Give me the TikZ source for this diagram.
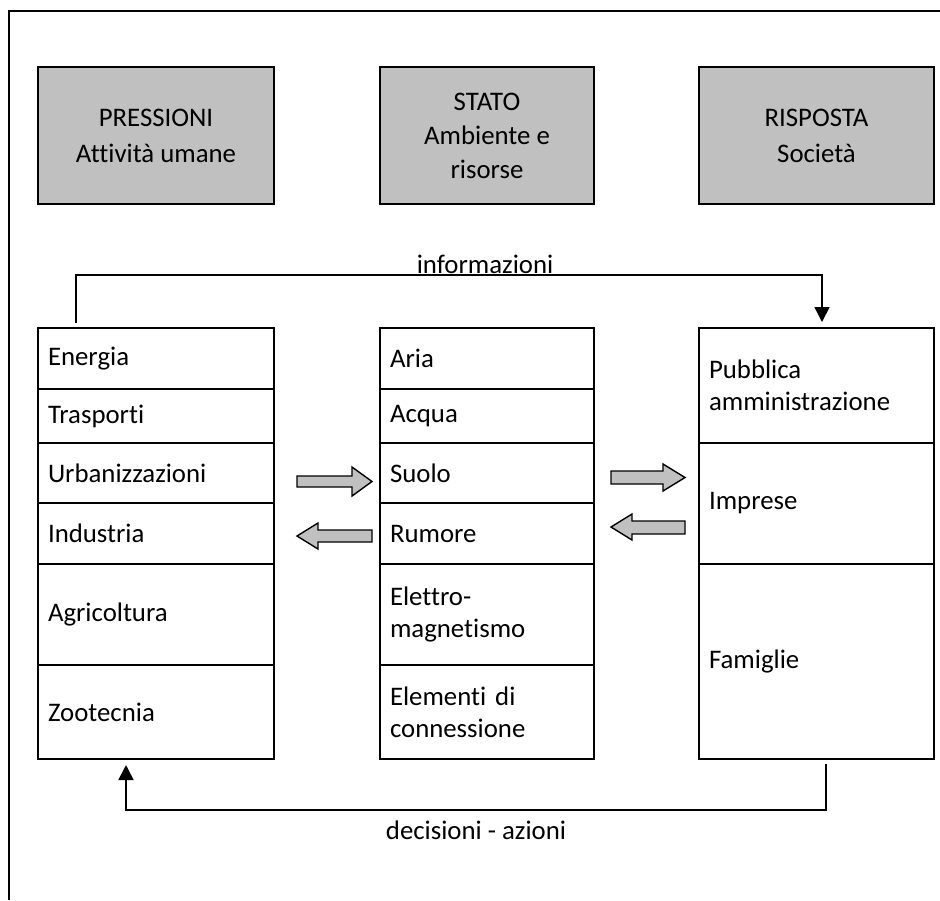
\documentclass[tikz,border=0pt]{standalone}
\usepackage{fontspec}
\setmainfont{Carlito}[Ligatures={NoCommon}]
\usetikzlibrary{arrows.meta,calc}
\definecolor{boxgrey}{RGB}{192,192,192}
\tikzset{
  cell/.style={draw,line width=1pt,anchor=north west,inner xsep=5pt,inner ysep=0pt,align=left,
    font=\fontsize{13.4pt}{16pt}\selectfont},
  lcol/.style={cell,minimum width=118pt,text width=108pt},
  mcol/.style={cell,minimum width=107pt,text width=97pt},
  rcol/.style={cell,minimum width=117.5pt,text width=107.5pt},
  head/.style={draw,line width=1pt,fill=boxgrey,anchor=north west,inner xsep=0pt,inner ysep=0pt,align=center,
    minimum height=68.5pt,font=\fontsize{13.4pt}{18pt}\selectfont},
  conn/.style={line width=0.8pt},
  tip/.style={-{Triangle[width=7.5pt,length=7.5pt]}},
  blockarrow/.style={draw,line width=0.7pt,fill=boxgrey,line join=miter},
  lab/.style={font=\fontsize{13.4pt}{16pt}\selectfont,inner sep=0pt}
}
\begin{document}
\begin{tikzpicture}[x=0.5pt,y=-0.5pt]
\useasboundingbox (0,0) rectangle (940,900);
% outer frame
\draw[line width=1pt] (9,900) -- (9,11) -- (940,11);
% header boxes
\node[head,minimum width=118pt] (pressioni) at (37,66) {PRESSIONI\\Attività umane};
\node[head,minimum width=107pt,font=\fontsize{13.4pt}{17pt}\selectfont] (stato) at (379,66) {STATO\\Ambiente e\\risorse};
\node[head,minimum width=117.5pt] (risposta) at (698,66) {RISPOSTA\\Società};
% left column
\node[lcol,minimum height=30.5pt] (energia) at (37,327) {Energia};
\node[lcol,minimum height=27pt] (trasporti) at (37,388) {Trasporti};
\node[lcol,minimum height=30pt] (urban) at (37,442) {Urbanizzazioni};
\node[lcol,minimum height=30.5pt] (industria) at (37,502) {Industria};
\node[lcol,minimum height=50.5pt] (agricoltura) at (37,563) {Agricoltura};
\node[lcol,minimum height=47pt] (zootecnia) at (37,664) {Zootecnia};
% middle column
\node[mcol,minimum height=30.5pt] (aria) at (379,327) {Aria};
\node[mcol,minimum height=27pt] (acqua) at (379,388) {Acqua};
\node[mcol,minimum height=30pt] (suolo) at (379,442) {Suolo};
\node[mcol,minimum height=30.5pt] (rumore) at (379,502) {Rumore};
\node[mcol,minimum height=50.5pt] (elettro) at (379,563) {Elettro-\\magnetismo};
\node[mcol,minimum height=47pt] (elementi) at (379,664) {Elementi di\\connessione};
% right column
\node[rcol,minimum height=57.5pt] (pubblica) at (698,327) {Pubblica\\amministrazione};
\node[rcol,minimum height=60.5pt] (imprese) at (698,442) {Imprese};
\node[rcol,minimum height=97.5pt] (famiglie) at (698,563) {Famiglie};
% block arrows
\draw[blockarrow] (297,476) -- (352,476) -- (352,467) -- (372,481.5) -- (352,496) -- (352,487) -- (297,487) -- cycle;
\draw[blockarrow] (372,530) -- (318,530) -- (318,523) -- (297,536) -- (318,549) -- (318,542) -- (372,542) -- cycle;
\draw[blockarrow] (611,471) -- (663,471) -- (663,464) -- (685,477.5) -- (663,491) -- (663,484) -- (611,484) -- cycle;
\draw[blockarrow] (685,521) -- (632,521) -- (632,514) -- (611,527) -- (632,540) -- (632,534) -- (685,534) -- cycle;
% informazioni loop
\coordinate (ia) at ($(energia.north west)+(39,-4)$);
\coordinate (ib) at ($(pubblica.north west)+(124,-5)$);
\coordinate (itop) at (0,275);
\draw[conn,tip] (ia) -- (ia |- itop) -| (ib);
\node[lab] (informazioni) at (485,264) {informazioni};
% decisioni loop
\coordinate (da) at ($(famiglie.south west)+(128,4)$);
\coordinate (db) at ($(zootecnia.south west)+(89,5)$);
\coordinate (dbot) at (0,810);
\draw[conn,tip] (da) -- (da |- dbot) -| (db);
\node[lab] (decisioni) at (476,830) {decisioni - azioni};
\end{tikzpicture}
\end{document}
